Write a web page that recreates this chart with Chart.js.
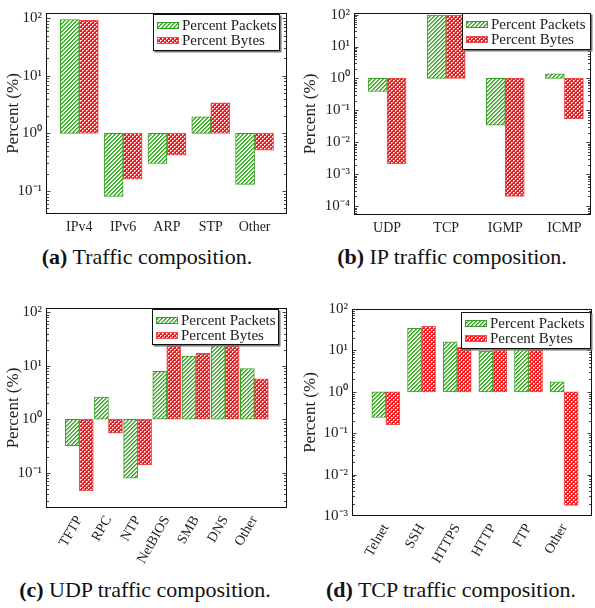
<!DOCTYPE html>
<html>
<head>
<meta charset="utf-8">
<script src="https://cdn.jsdelivr.net/npm/chart.js@4.4.1/dist/chart.umd.min.js"></script>
<style>
  body { margin: 0; width: 595px; height: 608px; background: #fff; position: relative; overflow: hidden; font-family: "Liberation Serif", serif; }
  canvas { position: absolute; }
  .cap { position: absolute; font-size: 22px; line-height: 22px; color: #111; white-space: nowrap; transform: translateX(-50%); }
</style>
</head>
<body>
<canvas id="ca" width="297" height="240" style="left:0;top:0"></canvas>
<canvas id="cb" width="298" height="240" style="left:297px;top:0"></canvas>
<canvas id="cc" width="297" height="270" style="left:0;top:295px"></canvas>
<canvas id="cd" width="298" height="270" style="left:297px;top:295px"></canvas>
<div class="cap" style="left:147px;top:246px"><b>(a)</b> Traffic composition.</div>
<div class="cap" style="left:452px;top:246px"><b>(b)</b> IP traffic composition.</div>
<div class="cap" style="left:145px;top:579px"><b>(c)</b> UDP traffic composition.</div>
<div class="cap" style="left:451px;top:579px"><b>(d)</b> TCP traffic composition.</div>
<script>
// values in percent, bars grow from 1 (10^0)
const trafficLabels = ['IPv4', 'IPv6', 'ARP', 'STP', 'Other'];
const trafficPackets = [95, 0.08, 0.30, 1.93, 0.13];
const trafficBytes = [92, 0.16, 0.42, 3.4, 0.51];

const ipLabels = ['UDP', 'TCP', 'IGMP', 'ICMP'];
const ipPackets = [0.39, 96, 0.034, 1.39];
const ipBytes = [0.0021, 95, 0.0002, 0.054];

const udpLabels = ['TFTP', 'RPC', 'NTP', 'NetBIOS', 'SMB', 'DNS', 'Other'];
const udpPackets = [0.32, 2.6, 0.079, 7.9, 15.2, 28, 8.9];
const udpBytes = [0.046, 0.55, 0.14, 30, 17, 35, 5.7];

const tcpLabels = ['Telnet', 'SSH', 'HTTPS', 'HTTP', 'FTP', 'Other'];
const tcpPackets = [0.24, 34, 16, 9.6, 14, 1.75];
const tcpBytes = [0.16, 38, 12, 15, 13, 0.0018];

const seriesNames = ['Percent Packets', 'Percent Bytes'];

const GREEN = '#35a322';
const RED_BORDER = '#ef4d4d';
const TEXT = '#222';
const FONT = '"Liberation Serif", serif';

function makePattern(kind) {
  const c = document.createElement('canvas');
  c.width = 4; c.height = 4;
  const g = c.getContext('2d');
  const img = g.createImageData(4, 4);
  for (let y = 0; y < 4; y++) {
    for (let x = 0; x < 4; x++) {
      let col;
      if (kind === 'hatch') {
        const k = (x + y) % 4;
        col = k === 0 ? [55, 165, 35] : k === 1 ? [105, 192, 85] : k === 2 ? [225, 242, 220] : [255, 255, 255];
      } else {
        col = [236, 28, 32];
        if ((x === 0 && y === 0) || (x === 2 && y === 2)) col = [255, 255, 255];
        else if ((x === 1 && y === 0) || (x === 0 && y === 1) || (x === 3 && y === 2) || (x === 2 && y === 3)) col = [250, 185, 185];
      }
      const i = (y * 4 + x) * 4;
      img.data[i] = col[0]; img.data[i + 1] = col[1]; img.data[i + 2] = col[2]; img.data[i + 3] = 255;
    }
  }
  g.putImageData(img, 0, 0);
  return g.createPattern(c, 'repeat');
}

const hatch = makePattern('hatch');
const dots = makePattern('dots');

const sup = { '-': '\u207B', '0': '\u2070', '1': '\u00B9', '2': '\u00B2', '3': '\u00B3', '4': '\u2074', '5': '\u2075', '6': '\u2076', '7': '\u2077', '8': '\u2078', '9': '\u2079' };
function isPow10(v) {
  const l = Math.log10(v);
  return Math.abs(l - Math.round(l)) < 1e-9;
}
function powLabel(v) {
  if (!isPow10(v)) return '';
  return '10' + String(Math.round(Math.log10(v))).split('').map(ch => sup[ch]).join('');
}

const framePlugin = {
  id: 'frame',
  afterDatasetsDraw(chart) {
    const { ctx, chartArea: a } = chart;
    const ys = chart.scales.y;
    const L = Math.round(a.left) + 0.5, R = Math.round(a.right) - 0.5;
    const T = Math.round(a.top) + 0.5, B = Math.round(a.bottom) - 0.5;
    ctx.save();
    ctx.strokeStyle = '#444';
    ctx.lineWidth = 1;
    ys.ticks.forEach(t => {
      const py = Math.round(ys.getPixelForValue(t.value)) + 0.5;
      if (py < T || py > B) return;
      const len = isPow10(t.value) ? 4 : 2.5;
      ctx.beginPath();
      ctx.moveTo(L, py); ctx.lineTo(L + len, py);
      ctx.moveTo(R - len, py); ctx.lineTo(R, py);
      ctx.stroke();
    });
    ctx.strokeStyle = '#111';
    ctx.strokeRect(L, T, R - L, B - T);

    // legend box
    const lg = chart.options.plugins.frame.legend;
    ctx.fillStyle = '#777';
    ctx.fillRect(lg.x + 1.5, lg.y + 1.5, lg.w, lg.h);
    ctx.fillStyle = '#fff';
    ctx.fillRect(lg.x, lg.y, lg.w, lg.h);
    ctx.strokeStyle = '#111';
    ctx.strokeRect(lg.x + 0.5, lg.y + 0.5, lg.w - 1, lg.h - 1);
    chart.data.datasets.forEach((ds, i) => {
      const cy = lg.y + 11.5 + i * 15;
      ctx.fillStyle = ds.backgroundColor;
      ctx.fillRect(lg.x + 4, cy - 3.5, 22, 7);
      ctx.strokeStyle = ds.borderColor;
      ctx.strokeRect(lg.x + 4.5, cy - 3, 21, 6);
      ctx.fillStyle = TEXT;
      ctx.font = '15px ' + FONT;
      ctx.textBaseline = 'middle';
      ctx.fillText(ds.label, lg.x + 29, cy + 0.5);
    });
    ctx.restore();
  }
};

function makeChart(id, p) {
  const toBars = vals => vals.map((v, i) => ({ x: i, y: [1, v] }));
  new Chart(document.getElementById(id), {
    type: 'bar',
    data: {
      datasets: [
        { label: seriesNames[0], data: toBars(p.packets), backgroundColor: hatch, borderColor: GREEN, borderWidth: 1, borderSkipped: false, barThickness: p.bar },
        { label: seriesNames[1], data: toBars(p.bytes), backgroundColor: dots, borderColor: RED_BORDER, borderWidth: 1, borderSkipped: false, barThickness: p.bar }
      ]
    },
    options: {
      responsive: false,
      animation: false,
      layout: { padding: { top: p.padTop, right: p.padRight, left: 0, bottom: 0 } },
      plugins: { legend: { display: false }, tooltip: { enabled: false }, frame: { legend: p.legend } },
      scales: {
        x: {
          type: 'linear', min: p.xmin, max: p.xmax, offset: false,
          grid: { display: false, drawTicks: false }, border: { display: false },
          afterBuildTicks: s => { s.ticks = p.labels.map((_, i) => ({ value: i })); },
          afterFit: s => { s.height = p.xh; },
          ticks: {
            autoSkip: false, minRotation: p.rot, maxRotation: p.rot, padding: 5,
            color: TEXT, font: { family: FONT, size: 14 },
            callback: v => p.labels[v] ?? ''
          }
        },
        y: {
          type: 'logarithmic', min: Math.pow(10, p.ymin), max: Math.pow(10, p.ymax),
          grid: { display: false, drawTicks: false }, border: { display: false },
          afterBuildTicks: s => {
            const t = [];
            for (let e = Math.floor(p.ymin); e <= Math.ceil(p.ymax); e++) {
              for (let m = 1; m <= 9; m++) {
                const v = m * Math.pow(10, e);
                if (v >= s.min * 0.999 && v <= s.max * 1.001) t.push({ value: v, major: m === 1 });
              }
            }
            s.ticks = t;
          },
          afterFit: s => { s.width = p.yw; },
          ticks: { autoSkip: false, padding: 4, color: TEXT, font: { family: FONT, size: 15 }, callback: v => powLabel(v) },
          title: { display: true, text: 'Percent (%)', color: TEXT, font: { family: FONT, size: 17 }, padding: { top: 3, bottom: 0 } }
        }
      }
    },
    plugins: [framePlugin]
  });
}

makeChart('ca', { labels: trafficLabels, packets: trafficPackets, bytes: trafficBytes,
  xmin: -0.76, xmax: 4.74, ymin: -1.4, ymax: 2.09, bar: 19, rot: 0,
  padTop: 11, padRight: 10, yw: 46, xh: 26, legend: { x: 153, y: 14, w: 127, h: 37 } });

makeChart('cb', { labels: ipLabels, packets: ipPackets, bytes: ipBytes,
  xmin: -0.56, xmax: 3.45, ymin: -4.28, ymax: 2.05, bar: 19, rot: 0,
  padTop: 9, padRight: 4, yw: 57, xh: 25, legend: { x: 165, y: 13, w: 129, h: 37 } });

makeChart('cc', { labels: udpLabels, packets: udpPackets, bytes: udpBytes,
  xmin: -1.14, xmax: 7.12, ymin: -1.66, ymax: 2.08, bar: 14, rot: 60,
  padTop: 9, padRight: 10, yw: 46, xh: 57, legend: { x: 152, y: 14, w: 127, h: 36 } });

makeChart('cd', { labels: tcpLabels, packets: tcpPackets, bytes: tcpBytes,
  xmin: -0.95, xmax: 5.78, ymin: -3, ymax: 2, bar: 14, rot: 60,
  padTop: 14, padRight: 3, yw: 55, xh: 49, legend: { x: 164, y: 17, w: 130, h: 37 } });
</script>
</body>
</html>
